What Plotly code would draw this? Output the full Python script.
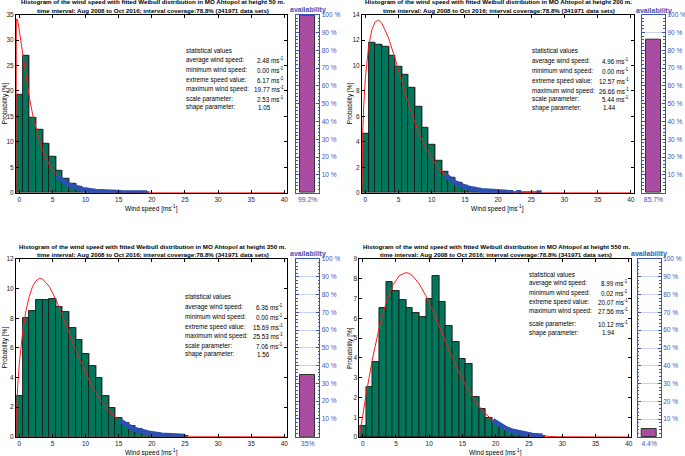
import plotly.graph_objects as go

W, H = 685, 456

# ---------------- data ----------------
heights = ["50", "200", "350", "550"]
availability = [99.2, 85.7, 35.0, 4.4]
availability_labels = ["99.2%", "85.7%", "35%", "4.4%"]

stat_names = ["average wind speed:", "minimum wind speed:", "extreme speed value:",
              "maximum wind speed:", "scale parameter:", "shape parameter:"]
stats_50 = ["2.48", "0.00", "6.17", "19.77", "2.53", "1.05"]
stats_200 = ["4.96", "0.00", "12.57", "26.66", "5.44", "1.44"]
stats_350 = ["6.36", "0.00", "15.69", "25.53", "7.06", "1.56"]
stats_550 = ["8.99", "0.02", "20.07", "27.56", "10.12", "1.94"]

# histogram probabilities [%] for bins centred on 0,1,2,... m/s
hist_50 = [19.2, 26.87, 14.74, 12.32, 9.70, 7.08, 4.33, 2.69, 1.70, 1.10, 0.72, 0.48,
           0.32, 0.21, 0.14, 0.09, 0.06, 0.04, 0.02, 0.01]
hist_200 = [4.67, 11.82, 11.62, 11.48, 10.78, 9.91, 9.31, 8.29, 6.74, 5.14, 3.78, 2.52,
            1.68, 1.15, 0.78, 0.52, 0.34, 0.22, 0.14, 0.09, 0.06, 0.035, 0.02, 0.01,
            0.008, 0.005, 0.003]
hist_350 = [2.77, 8.04, 8.49, 9.21, 9.21, 9.28, 8.74, 8.40, 7.36, 6.51, 5.61, 4.75,
            3.94, 2.75, 1.96, 1.28, 0.95, 0.70, 0.50, 0.35, 0.25, 0.17, 0.12, 0.08,
            0.05, 0.03]
hist_550 = [0.57, 2.53, 3.81, 6.51, 7.82, 7.40, 6.93, 6.51, 6.27, 6.09, 6.98, 8.14,
            6.81, 5.63, 4.79, 3.93, 3.69, 2.01, 1.40, 0.94, 0.70, 0.47, 0.36, 0.25,
            0.17, 0.10, 0.06, 0.03]

# fitted Weibull curves
fit_x_50 = [-0.5, -0.499, -0.49, -0.45, -0.36, -0.2, 0, 0.5, 1, 1.5, 2, 2.5, 3, 3.5,
            4.5, 5.5, 6.5, 7.5, 8.5, 9.5, 11.5, 13.5, 15.5, 19.5, 25, 40]
fit_y_50 = [0, 28.0, 31.4, 33.6, 34.2, 33.5, 31.9, 27.2, 22.7, 18.8, 15.45, 12.66,
            10.34, 8.42, 5.56, 3.64, 2.38, 1.54, 1.0, 0.64, 0.27, 0.11, 0.045, 0.007,
            0.001, 0]
fit_x_200 = [-0.5, -0.45, -0.4, -0.25, 0, 0.5, 1, 1.5, 2, 2.5, 3.5, 4.5, 5.5, 6.5,
             7.5, 8.5, 9.5, 10.5, 11.5, 12.5, 13.5, 14.5, 15.5, 17.5, 19.5, 21.5,
             24.5, 26.5, 40]
fit_y_200 = [0, 3.36, 4.56, 6.75, 8.97, 11.52, 12.84, 13.45, 13.57, 13.33, 12.16,
             10.52, 8.74, 7.02, 5.49, 4.19, 3.13, 2.29, 1.65, 1.17, 0.81, 0.56, 0.38,
             0.17, 0.07, 0.028, 0.006, 0.002, 0]
fit_x_350 = [-0.5, -0.45, -0.25, 0, 0.5, 1, 1.5, 2, 2.5, 3, 3.5, 4.5, 5.5, 6.5, 7.5,
             8.5, 9.5, 10.5, 11.5, 12.5, 13.5, 14.5, 15.5, 16.5, 17.5, 19.5, 21.5,
             23.5, 25.5, 40]
fit_y_350 = [0, 1.38, 3.39, 4.94, 7.05, 8.49, 9.48, 10.14, 10.52, 10.68, 10.65, 10.16,
             9.29, 8.20, 7.03, 5.88, 4.80, 3.84, 3.02, 2.33, 1.77, 1.32, 0.97, 0.70,
             0.50, 0.25, 0.12, 0.05, 0.02, 0]
fit_x_550 = [-0.5, 0, 0.5, 1.5, 2.5, 3.5, 4.5, 5.5, 6.5, 7, 7.5, 8.5, 9.5, 10.5, 11.5,
             12.5, 13.5, 14.5, 15.5, 16.5, 17.5, 18.5, 19.5, 20.5, 21.5, 22.5, 23.5,
             24.5, 25.5, 27.5, 29.5, 40]
fit_y_550 = [0, 1.13, 2.15, 4.00, 5.56, 6.79, 7.66, 8.16, 8.31, 8.27, 8.15, 7.74, 7.14,
             6.40, 5.59, 4.77, 3.98, 3.25, 2.59, 2.03, 1.55, 1.16, 0.86, 0.62, 0.44,
             0.30, 0.21, 0.14, 0.09, 0.035, 0.012, 0]

# values above the extreme speed (blue tail)
tail_x_50 = [5.67, 6.5, 7.5, 8.5, 9.5, 11.5, 13.5, 15.5, 19.27]
tail_y_50 = [3.42, 2.38, 1.54, 1.0, 0.64, 0.27, 0.11, 0.045, 0.007]
tail_x_200 = [12.07, 12.5, 13.5, 14.5, 15.5, 17.5, 19.5, 21.5]
tail_y_200 = [1.38, 1.17, 0.81, 0.56, 0.38, 0.17, 0.07, 0.028]
tail_pts_x_200 = [21.9, 23.1, 26.16]
tail_pts_y_200 = [0.022, 0.012, 0.002]
tail_x_350 = [15.19, 15.5, 16.5, 17.5, 19.5, 21.5, 23.5, 25.03]
tail_y_350 = [1.08, 0.97, 0.70, 0.50, 0.25, 0.12, 0.05, 0.025]
tail_x_550 = [19.57, 20.5, 21.5, 22.5, 23.5, 24.5, 25.5, 27.06]
tail_y_550 = [0.84, 0.62, 0.44, 0.30, 0.21, 0.14, 0.09, 0.045]

x_ticks = [0, 5, 10, 15, 20, 25, 30, 35, 40]
avail_ticks = [10, 20, 30, 40, 50, 60, 70, 80, 90, 100]

# ---------------- styling / layout ----------------
FONT = "Liberation Sans, Arial, Helvetica, sans-serif"
GREEN = "#00775A"
RED = "#FF1A1A"
BLUE_TAIL = "#2C4FB0"
BLUE_TXT = "#3A55B8"
PURPLE = "#A94CA2"
SHADOW = "#A9A9A9"

panels = [
    dict(h=heights[0], hist=hist_50, fx=fit_x_50, fy=fit_y_50, tx=tail_x_50, ty=tail_y_50,
         px=None, py=None, stats=stats_50, ymax=35, dtick=5,
         l=16, r=287, t=14.7, b=192.7, al=296, ar=319.3,
         sx=185.5, vx=283.5, shx=257.7, rows=[50.7, 60, 70, 80, 89.3, 98.7, 107.3],
         ylab=4.5, t1=1.7, t2=10.4, avt=10),
    dict(h=heights[1], hist=hist_200, fx=fit_x_200, fy=fit_y_200, tx=tail_x_200, ty=tail_y_200,
         px=tail_pts_x_200, py=tail_pts_y_200, stats=stats_200, ymax=14, dtick=2,
         l=362, r=633.5, t=14.7, b=192.7, al=642, ar=665,
         sx=531.7, vx=629.3, shx=603.3, rows=[50, 60.7, 70.7, 80.7, 90.7, 99.3, 107.7],
         ylab=349.5, t1=1.7, t2=10.4, avt=11),
    dict(h=heights[2], hist=hist_350, fx=fit_x_350, fy=fit_y_350, tx=tail_x_350, ty=tail_y_350,
         px=None, py=None, stats=stats_350, ymax=12, dtick=2,
         l=16, r=287, t=259, b=436.7, al=296, ar=319.3,
         sx=185, vx=283.3, shx=256.7, rows=[296.7, 306.7, 316.7, 326.7, 336, 346.3, 354.3],
         ylab=4.5, t1=246, t2=254.7, avt=254),
    dict(h=heights[3], hist=hist_550, fx=fit_x_550, fy=fit_y_550, tx=tail_x_550, ty=tail_y_550,
         px=None, py=None, stats=stats_550, ymax=9, dtick=1,
         l=359.4, r=631.4, t=259, b=437, al=637.7, ar=660.7,
         sx=529, vx=628.3, shx=601.7, rows=[274.3, 283.3, 292.7, 301.7, 311, 324.3, 332.7],
         ylab=350, t1=246, t2=254.7, avt=254),
]

fig = go.Figure()
layout = dict(width=W, height=H, margin=dict(l=0, r=0, t=0, b=0),
              paper_bgcolor="white", plot_bgcolor="white", showlegend=False,
              font=dict(family=FONT, size=6.5, color="black"), bargap=0, barmode="overlay")
annotations = []


def px_x(v):
    return v / W


def px_y(v):
    return 1 - v / H


def ann(x, y, text, size=6.5, xanchor="center", color="black", angle=0, bold=False):
    if bold:
        text = "<b>" + text + "</b>"
    annotations.append(dict(x=px_x(x), y=px_y(y), xref="paper", yref="paper", text=text,
                            showarrow=False, xanchor=xanchor, yanchor="middle",
                            textangle=angle, borderpad=0, borderwidth=0,
                            font=dict(family=FONT, size=size, color=color)))


for i, p in enumerate(panels):
    xa = 2 * i + 1
    xb = 2 * i + 2
    xn_a = "x" if xa == 1 else f"x{xa}"
    yn_a = "y" if xa == 1 else f"y{xa}"
    xn_b = f"x{xb}"
    yn_b = f"y{xb}"
    ydom = [px_y(p["b"]), px_y(p["t"])]

    # pixel-based offsets for the light bar shadow
    dx = 1.0 / ((p["r"] - p["l"]) / 40.9)
    dy = 1.0 / ((p["b"] - p["t"]) / p["ymax"])
    centres = list(range(len(p["hist"])))
    fig.add_trace(go.Bar(x=centres, y=p["hist"], width=1, offset=-0.5 + dx, base=dy,
                         marker=dict(color=SHADOW, line=dict(width=0)),
                         xaxis=xn_a, yaxis=yn_a, hoverinfo="skip"))
    # histogram
    fig.add_trace(go.Bar(x=centres, y=p["hist"], width=1,
                         marker=dict(color=GREEN, line=dict(color="#1c1c1c", width=0.9)),
                         xaxis=xn_a, yaxis=yn_a))
    # Weibull fit
    fig.add_trace(go.Scatter(x=p["fx"], y=p["fy"], mode="lines",
                             line=dict(color=RED, width=1), xaxis=xn_a, yaxis=yn_a))
    # tail above extreme value
    fig.add_trace(go.Scatter(x=p["tx"], y=p["ty"], mode="lines",
                             line=dict(color=BLUE_TAIL, width=5), xaxis=xn_a, yaxis=yn_a))
    if p["px"]:
        fig.add_trace(go.Scatter(x=p["px"], y=p["py"], mode="markers",
                                 marker=dict(color=BLUE_TAIL, size=5, symbol="square"),
                                 xaxis=xn_a, yaxis=yn_a))
    # availability bar
    fig.add_trace(go.Bar(x=[0.5], y=[availability[i]], width=0.62,
                         marker=dict(color=PURPLE, line=dict(color="#333333", width=1)),
                         xaxis=xn_b, yaxis=yn_b))

    ax_common = dict(showline=True, linecolor="black", linewidth=1, mirror="ticks",
                     ticks="inside", ticklen=3, tickcolor="black", showgrid=False,
                     zeroline=False, automargin=False,
                     tickfont=dict(family=FONT, size=6.5, color="#222"))
    layout["xaxis" if xa == 1 else f"xaxis{xa}"] = dict(
        domain=[px_x(p["l"]), px_x(p["r"])], range=[-0.5, 40.4], tickvals=x_ticks,
        anchor=yn_a, **ax_common)
    layout["yaxis" if xa == 1 else f"yaxis{xa}"] = dict(
        domain=ydom, range=[0, p["ymax"]], dtick=p["dtick"], tick0=0, anchor=xn_a,
        **ax_common)
    layout[f"xaxis{xb}"] = dict(
        domain=[px_x(p["al"]), px_x(p["ar"])], range=[0, 1], anchor=yn_b,
        showline=True, linecolor=BLUE_TXT, linewidth=1.3, mirror=True, ticks="",
        tickvals=[0.5], ticktext=[availability_labels[i]], showgrid=False, zeroline=False,
        automargin=False, tickfont=dict(family=FONT, size=6.8, color=BLUE_TXT))
    layout[f"yaxis{xb}"] = dict(
        domain=ydom, range=[0, 100], anchor=xn_b, side="right",
        tickvals=avail_ticks, ticktext=[f"{v} %" for v in avail_ticks],
        showline=True, linecolor=BLUE_TXT, linewidth=1.3, mirror="allticks",
        ticks="inside", ticklen=3, tickcolor=BLUE_TXT,
        minor=dict(dtick=2, tick0=0, ticks="inside", ticklen=1.5, tickcolor=BLUE_TXT),
        showgrid=True, gridcolor="#C9D2EC", gridwidth=1, zeroline=False, automargin=False,
        tickfont=dict(family=FONT, size=6.5, color=BLUE_TXT))

    # titles
    cx = (p["l"] + p["r"]) / 2 + 1
    ann(cx, p["t1"], f"Histogram of the wind speed with fitted Weibull distribution in MO Ahtopol at height {p['h']} m.",
        size=6.2, bold=True)
    ann(cx, p["t2"], "time interval: Aug 2008 to Oct 2016; interval coverage:78.8% (341971 data sets)",
        size=6.2, bold=True)
    ann((p["al"] + p["ar"]) / 2, p["avt"], "availability", size=7, color=BLUE_TXT, bold=True)
    # axis titles
    ann((p["l"] + p["r"]) / 2, p["b"] + 15.5, "Wind speed [ms<sup>-1</sup>]", size=6.5)
    ann(p["ylab"], (p["t"] + p["b"]) / 2, "Probability [%]", size=6.5, angle=-90)
    # statistics box
    ann(p["sx"], p["rows"][0], "statistical values", size=6.3, xanchor="left")
    for j, name in enumerate(stat_names):
        ann(p["sx"], p["rows"][j + 1], name, size=6.3, xanchor="left")
        if j < 5:
            ann(p["vx"], p["rows"][j + 1], f"{p['stats'][j]} ms<sup>-1</sup>", size=6.3,
                xanchor="right")
        else:
            ann(p["shx"], p["rows"][j + 1], p["stats"][j], size=6.3, xanchor="left")

layout["annotations"] = annotations
fig.update_layout(**layout)
fig.write_html("out.html", config={"displayModeBar": False},
               post_script="document.body.style.margin='0';document.body.style.padding='0';")
